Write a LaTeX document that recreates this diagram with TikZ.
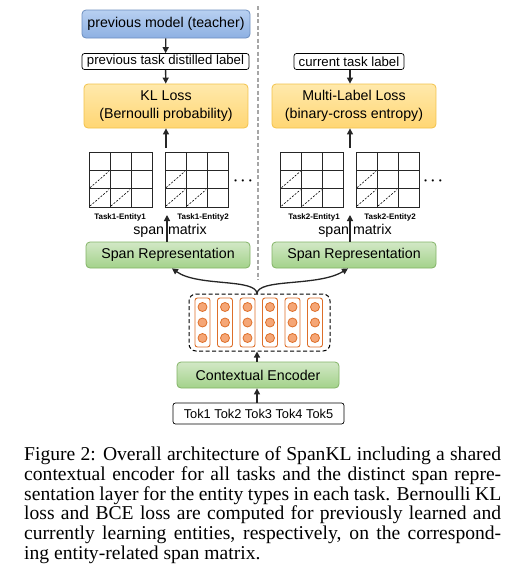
\documentclass[tikz,border=0pt]{standalone}
\usepackage{fontspec}
\setmainfont{Liberation Sans}
\newfontfamily\capfont{Liberation Serif}
\usetikzlibrary{arrows.meta,positioning,graphs}

\definecolor{blueline}{HTML}{6C8EBF}
\definecolor{bluetop}{HTML}{B8D0F1}
\definecolor{bluebot}{HTML}{8DB0E2}
\definecolor{yelline}{HTML}{F2C24A}
\definecolor{yeltop}{HTML}{FFE9AC}
\definecolor{yelbot}{HTML}{FFD673}
\definecolor{greenline}{HTML}{82B366}
\definecolor{greentop}{HTML}{D2E8C6}
\definecolor{greenbot}{HTML}{A3D28A}
\definecolor{orangeline}{HTML}{DD6F2A}
\definecolor{orangefill}{HTML}{F5A676}
\definecolor{arrowgray}{HTML}{262626}

\newcommand{\capline}[1]{\makebox[477pt][s]{#1}\\}

\begin{document}
\begin{tikzpicture}
	% Styles
	[
	x=1pt, y=-1pt,
	box/.style={rounded corners=4pt, line width=0.8pt, inner sep=0pt, align=center, font=\fontsize{14.2}{17.5}\selectfont},
	teacherbox/.style={box, draw=blueline, top color=bluetop, bottom color=bluebot},
	lossbox/.style={box, draw=yelline, top color=yeltop, bottom color=yelbot, minimum width=164pt, minimum height=44pt},
	greenbox/.style={box, draw=greenline, top color=greentop, bottom color=greenbot, minimum height=26pt},
	labelbox/.style={draw=black, fill=white, rounded corners=2.5pt, line width=0.7pt, inner sep=0pt, minimum height=16pt, font=\fontsize{13.2}{14}\selectfont},
	arr/.style={-{Triangle[length=6pt,width=6pt]}, line width=1.3pt, draw=arrowgray},
	matbox/.style={draw=arrowgray, line width=1pt, minimum width=63pt, minimum height=55pt, inner sep=0pt},
	gridline/.style={draw=arrowgray, line width=1pt},
	diag/.style={draw=black, line width=0.6pt, dash pattern=on 2pt off 1.5pt},
	mlabel/.style={font=\fontsize{8}{9}\selectfont\bfseries},
	col/.style={draw=orangeline, rounded corners=2.5pt, line width=0.9pt, minimum width=15pt, minimum height=49pt, inner sep=0pt},
	unit/.style={circle, draw=orangeline, fill=orangefill, line width=0.8pt, minimum size=9pt, inner sep=0pt},
	divider/.style={draw=black!35, line width=1.5pt, dash pattern=on 4pt off 2.5pt},
	]
	\useasboundingbox (0,0) rectangle (520,582);

	% Nodes
	\node at (166,24)	(teacher)	[teacherbox, minimum width=168pt, minimum height=28pt] {previous model (teacher)};
	\node at (165.5,61.5)	(distl)	[labelbox, minimum width=167pt] {previous task distilled label};
	\node at (166,106)	(kl)	[lossbox] {KL Loss\\(Bernoulli probability)};
	\node at (349,61.5)	(curlbl)	[labelbox, minimum width=110pt] {current task label};
	\node at (354,106)	(mll)	[lossbox] {Multi-Label Loss\\(binary-cross entropy)};

	\foreach \m/\cx in {m1/120.5, m2/196.5, m3/312, m4/387.5} {
		\node at (\cx,179.5)	(\m)	[matbox] {};
		\draw[gridline] ({\cx-10.5},152) -- ({\cx-10.5},207);
		\draw[gridline] ({\cx+10.5},152) -- ({\cx+10.5},207);
		\draw[gridline] ({\cx-31.5},170.3) -- ({\cx+31.5},170.3);
		\draw[gridline] ({\cx-31.5},188.7) -- ({\cx+31.5},188.7);
		\draw[diag] ({\cx-30.5},187.7) -- ({\cx-11.5},171.3);
		\draw[diag] ({\cx-30.5},206) -- ({\cx-11.5},189.7);
		\draw[diag] ({\cx-9.5},206) -- ({\cx+9.5},189.7);
	}
	\node at (243,181)	(dots1)	[font=\fontsize{15}{15}\selectfont\boldmath] {$\cdots$};
	\node at (433,181)	(dots2)	[font=\fontsize{15}{15}\selectfont\boldmath] {$\cdots$};

	\node at (120,217)	(l1)	[mlabel] {Task1-Entity1};
	\node at (203,217)	(l2)	[mlabel] {Task1-Entity2};
	\node at (314,217)	(l3)	[mlabel] {Task2-Entity1};
	\node at (390,217)	(l4)	[mlabel] {Task2-Entity2};
	\node at (170,231)	(smL)	[font=\fontsize{14.2}{15}\selectfont] {span matrix};
	\node at (355,231)	(smR)	[font=\fontsize{14.2}{15}\selectfont] {span matrix};

	\node at (168,255)	(srL)	[greenbox, minimum width=164pt] {Span Representation};
	\node at (354,255)	(srR)	[greenbox, minimum width=164pt] {Span Representation};

	\node at (259.5,322.5)	(emb)	[draw=black, line width=1pt, dash pattern=on 4pt off 2.5pt, rounded corners=7pt, minimum width=141pt, minimum height=57pt] {};
	\foreach \i in {0,...,5} {
		\node at ({202.5+22.5*\i},322.5)	(c\i)	[col] {};
		\foreach \yy in {307,322.5,338}
			\node at ({202.5+22.5*\i},\yy)	[unit] {};
	}
	\node at (258,375)	(enc)	[greenbox, minimum width=162pt] {Contextual Encoder};
	\node at (258.5,413.5)	(tok)	[labelbox, minimum width=171pt, minimum height=21pt, font=\fontsize{12.8}{14}\selectfont] {Tok1 Tok2 Tok3 Tok4 Tok5};

	\coordinate (split) at (257,294);
	\coordinate (upL) at (166,148);
	\coordinate (upR) at (350,148);
	\coordinate (topL) at (167,215);
	\coordinate (topR) at (350,215);

	% Divider
	\draw[divider] (258,6) -- (258,280);

	% Connections
	\graph[use existing nodes, edges=arr] {
		teacher -> distl;
		distl -> kl;
	};
	\draw[arr] (curlbl.south -| upR) -- (mll.north -| upR);
	\draw[arr] (upL) -- (kl.south -| upL);
	\draw[arr] (upR) -- (mll.south -| upR);
	\draw[arr] (srL.north -| topL) -- (topL);
	\draw[arr] (srR.north -| topR) -- (topR);
	\draw[arr] (tok.north -| split) -- (enc.south -| split);
	\draw[arr] (enc.north -| split) -- (emb.south -| split);
	\draw[arr] (split) .. controls (257,278) and (198,287) .. ([xshift=4pt]srL.south);
	\draw[arr] (split) .. controls (257,278) and (318,287) .. ([xshift=-6pt]srR.south);

	% Caption
	\node at (24,446.5)	(caption)	[anchor=north west, inner sep=0pt, align=left, font=\capfont\fontsize{19.6}{19.8}\selectfont] {%
		\capline{Figure 2: Overall architecture of SpanKL including a shared}
		\capline{contextual encoder for all tasks and the distinct span repre-}
		\capline{sentation layer for the entity types in each task. Bernoulli KL}
		\capline{loss and BCE loss are computed for previously learned and}
		\capline{currently learning entities, respectively, on the correspond-}
		ing entity-related span matrix.};

\end{tikzpicture}
\end{document}
